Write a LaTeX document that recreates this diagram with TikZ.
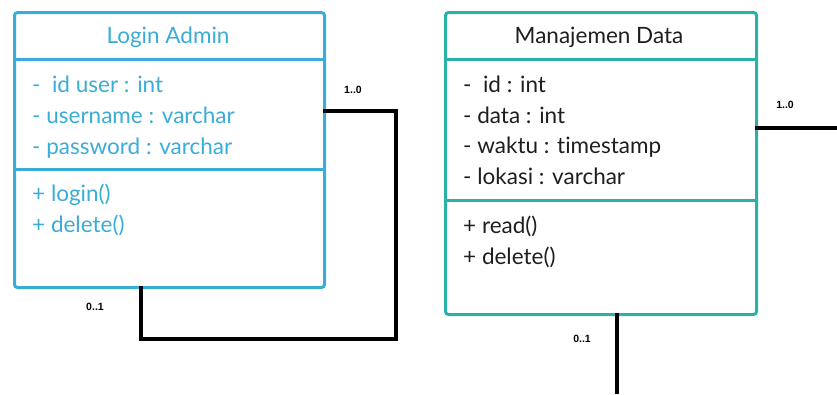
\documentclass[tikz,border=0pt]{standalone}
\usepackage{fontspec}
\setmainfont{Lato}[Ligatures=NoCommon]
\newfontfamily\multfont{Liberation Sans}
\usetikzlibrary{calc}
\definecolor{adminblue}{RGB}{58,172,216}
\definecolor{datateal}{RGB}{43,176,170}
\definecolor{darktext}{RGB}{30,30,30}
\begin{document}
\begin{tikzpicture}[x=1pt,y=-1pt,
  classbox/.style={draw, line width=3pt, rounded corners=3pt, anchor=north west, inner sep=0pt},
  divider/.style={line width=3pt},
  member/.style={anchor=base west, inner sep=0pt, font=\fontsize{22.5}{26}\selectfont},
  title/.style={anchor=base, inner sep=0pt, font=\fontsize{22.5}{26}\selectfont},
  assoc/.style={line width=4pt, black},
  mult/.style={inner sep=0pt, font=\multfont\fontsize{10.5}{12}\selectfont\bfseries, text=black}]
\useasboundingbox (0,0) rectangle (837,394);

% Login Admin class
\node[classbox, draw=adminblue, minimum width=310pt, minimum height=275pt] (admin) at (13,11) {};
\draw[divider, adminblue] (13,59) -- (323,59);
\draw[divider, adminblue] (13,169) -- (323,169);
\node[title, text=adminblue] (adminname) at (168,43) {Login Admin};
\begin{scope}[every node/.append style={member, text=adminblue}]
  \node (a1) at (32,92) {-\ \ id user : int};
  \node (a2) at (32,123) {- username : varchar};
  \node (a3) at (32,154) {- password : varchar};
  \node (a4) at (32,201) {+ login()};
  \node (a5) at (32,232) {+ delete()};
\end{scope}

% Manajemen Data class
\node[classbox, draw=datateal, minimum width=311pt, minimum height=302pt] (data) at (444,11) {};
\draw[divider, datateal] (444,59) -- (755,59);
\draw[divider, datateal] (444,200) -- (755,200);
\node[title, text=darktext] (dataname) at (599,43) {Manajemen Data};
\begin{scope}[every node/.append style={member, text=darktext}]
  \node (d1) at (463,92) {-\ \ id : int};
  \node (d2) at (463,123) {- data : int};
  \node (d3) at (463,153) {- waktu : timestamp};
  \node (d4) at (463,184) {- lokasi : varchar};
  \node (d5) at (463,233) {+ read()};
  \node (d6) at (463,264) {+ delete()};
\end{scope}

% self association of Login Admin
\coordinate (selfA) at (323,111);
\coordinate (selfB) at (141,286);
\draw[assoc] (selfA) -- (396,111) -- (396,339) -- (141,339) -- (selfB);
\node[mult] (m1) at (353,90) {1..0};
\node[mult] (m2) at (95,307) {0..1};

% open associations of Manajemen Data
\coordinate (rightEnd) at (837,128);
\coordinate (bottomEnd) at (617,394);
\draw[assoc] (755,128) -- (rightEnd);
\draw[assoc] (617,313) -- (bottomEnd);
\node[mult] (m3) at (785,105) {1..0};
\node[mult] (m4) at (582,339) {0..1};
\end{tikzpicture}
\end{document}
